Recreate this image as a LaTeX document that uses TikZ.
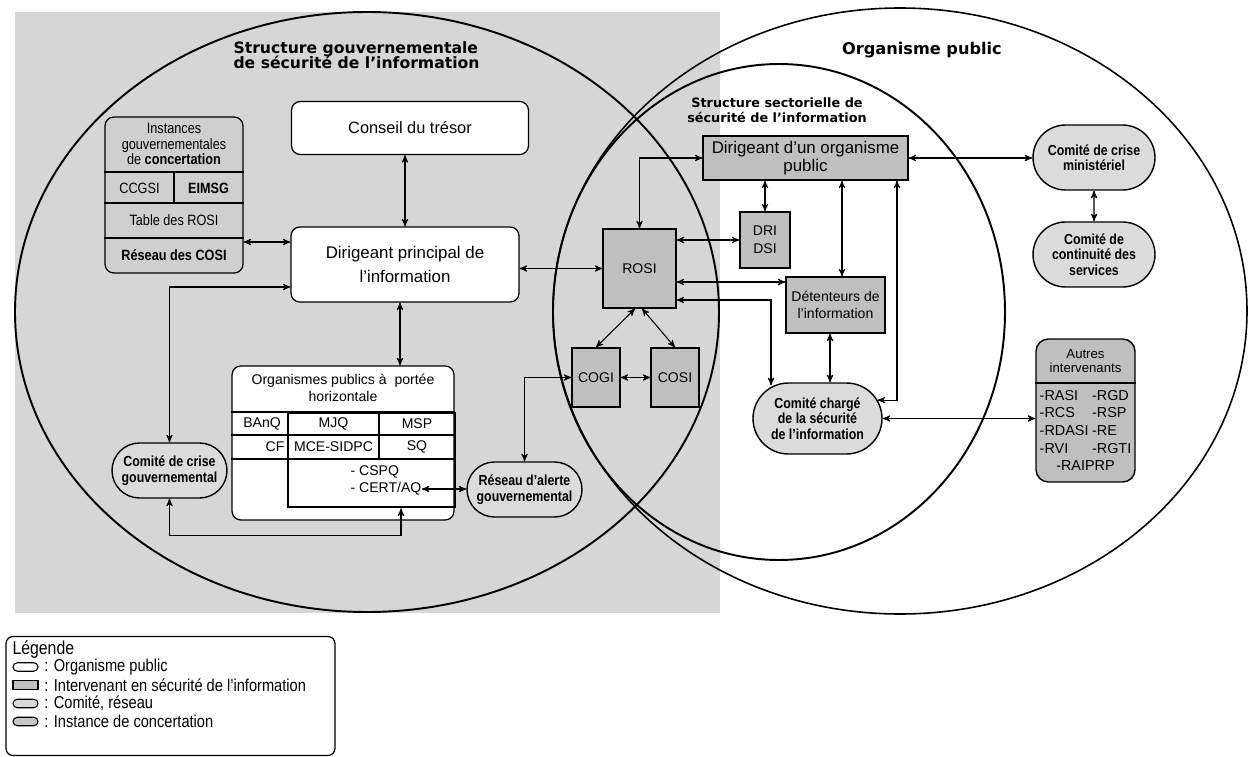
\documentclass[tikz,border=0pt]{standalone}
\usepackage{fontspec}
\setmainfont{Liberation Sans}
\newfontfamily\etroit[FakeStretch=0.85]{Liberation Sans}
\newfontfamily\titrefont{DejaVu Sans}
\usepackage{tikz}
\usetikzlibrary{arrows,shapes.misc,positioning}

\definecolor{fondgris}{gray}{0.84}
\definecolor{intergris}{gray}{0.75}
\definecolor{comitegris}{gray}{0.86}
\definecolor{instgris}{gray}{0.81}

\begin{document}
\begin{tikzpicture}[x=0.02cm,y=-0.02cm,>=stealth',line width=0.6pt]
  \tikzstyle{orgbox}=[draw,fill=white,rounded corners=5pt,line width=0.7pt,inner sep=0pt,align=center]
  \tikzstyle{interbox}=[draw,fill=intergris,line width=0.7pt,inner sep=0pt,align=center,
                        font=\fontsize{8}{10}\selectfont]
  \tikzstyle{comite}=[draw,fill=comitegris,rounded rectangle,line width=0.8pt,inner sep=0pt,align=center,
                      font={\etroit\bfseries\fontsize{8.3}{8.8}\selectfont\lineskiplimit=-20pt}]
  \tikzstyle{instbox}=[draw,fill=instgris,rounded corners=5pt,line width=0.7pt,inner sep=0pt]
  \tikzstyle{petit}=[font={\etroit\fontsize{8.5}{9}\selectfont\lineskiplimit=-20pt},align=center,inner sep=0pt]
  \tikzstyle{cellule}=[font=\fontsize{8}{10}\selectfont,inner sep=0pt]
  \tikzstyle{legtexte}=[font=\etroit\fontsize{9.8}{11}\selectfont,inner sep=0pt]
  \tikzstyle{lien}=[<->,line width=0.6pt]

  \useasboundingbox (0,0) rectangle (1248,757);
  \fill[fondgris] (15,12) rectangle (720,613);

  % les trois structures
  \draw[line width=1.1pt] (367,312) ellipse [x radius=352, y radius=300];
  \draw[line width=0.9pt] (900,311) ellipse [x radius=347, y radius=303];
  \draw[line width=1.1pt] (779,312) ellipse [x radius=226, y radius=248];

  \node[font={\titrefont\bfseries\fontsize{8.9}{8.5}\selectfont\lineskiplimit=-20pt},align=left,
        inner sep=0pt,anchor=west] (titreGouv) at (233,55) {Structure gouvernementale\\de sécurité de l’information};
  \node[font=\titrefont\bfseries\fontsize{9.2}{11}\selectfont,inner sep=0pt] (titreOrg) at (922,50) {Organisme public};
  \node[font={\titrefont\bfseries\fontsize{7.3}{8.5}\selectfont\lineskiplimit=-20pt},align=center,
        inner sep=0pt] (titreSect) at (777,110) {Structure sectorielle de\\sécurité de l’information};

  % structure gouvernementale
  \node[orgbox,minimum width=4.74cm,minimum height=1.06cm,font=\fontsize{9.3}{11}\selectfont] (tresor) at (410,128) {Conseil du trésor};
  \node[orgbox,minimum width=4.56cm,minimum height=1.5cm,font=\fontsize{9.6}{13.6}\selectfont] (dpi) at (405,264.5) {Dirigeant principal de\\l’information};

  \node[instbox,minimum width=2.76cm,minimum height=3.12cm] (instances) at (174,195) {};
  \foreach \y in {172,203,238}
    \draw[line width=0.7pt] (instances.west |- 0,\y) -- (instances.east |- 0,\y);
  \draw[line width=0.7pt] (174,172) -- (174,203);
  \node[petit] (instTitre) at (174,144) {Instances\\gouvernementales\\de \textbf{concertation}};
  \node[petit] (ccgsi) at (139.5,188) {CCGSI};
  \node[petit,font=\etroit\bfseries\fontsize{8.5}{9}\selectfont] (eimsg) at (208.5,188) {EIMSG};
  \node[petit] (tableRosi) at (174,220.5) {Table des ROSI};
  \node[petit,font=\etroit\bfseries\fontsize{8.5}{9}\selectfont] (reseauCosi) at (174,255.5) {Réseau des COSI};

  \node[comite,minimum width=2.3cm,minimum height=1.1cm] (crisegouv) at (169.5,470.5) {Comité de crise\\gouvernemental};

  \node[orgbox,minimum width=4.44cm,minimum height=3.08cm] (horizontale) at (343,443) {};
  \foreach \y in {412,435,459}
    \draw[line width=0.7pt] (horizontale.west |- 0,\y) -- (horizontale.east |- 0,\y);
  \draw[line width=0.7pt] (379,412) -- (379,459);
  \node[draw,line width=1.6pt,minimum width=3.34cm,minimum height=1.88cm] (noyau) at (371.5,460) {};
  \node[font=\fontsize{8}{10}\selectfont,align=center,inner sep=0pt] (horizTitre) at (343,388) {Organismes publics à\ \ portée\\horizontale};
  \node[cellule] (banq) at (262,424) {BAnQ};
  \node[cellule,anchor=east] (cf) at (285,447) {CF};
  \node[cellule] (mjq) at (333.5,424) {MJQ};
  \node[cellule] (msp) at (417,424) {MSP};
  \node[cellule] (mce) at (333.5,447) {MCE-SIDPC};
  \node[cellule] (sq) at (417,447) {SQ};
  \node[cellule,anchor=west] (cspq) at (350,472) {- CSPQ};
  \node[cellule,anchor=west] (certaq) at (350,489) {- CERT/AQ};

  \node[comite,minimum width=2.3cm,minimum height=1.1cm] (alerte) at (524.5,489.5) {Réseau d’alerte\\gouvernemental};

  % structure sectorielle
  \node[interbox,minimum width=1.46cm,minimum height=1.58cm] (rosi) at (639.5,268.5) {ROSI};
  \node[interbox,minimum width=0.96cm,minimum height=1.18cm] (cogi) at (596,377.5) {COGI};
  \node[interbox,minimum width=0.96cm,minimum height=1.18cm] (cosi) at (675,377.5) {COSI};
  \node[interbox,minimum width=4.1cm,minimum height=0.88cm,font=\fontsize{9.6}{10.5}\selectfont] (dop) at (805.5,158) {Dirigeant d’un organisme\\public};
  \node[interbox,minimum width=1cm,minimum height=1.12cm] (dri) at (765,240) {DRI\\DSI};
  \node[interbox,minimum width=1.98cm,minimum height=1.12cm] (det) at (835.5,305) {Détenteurs de\\l’information};
  \node[comite,minimum width=2.58cm,minimum height=1.42cm] (chargeSecu) at (817.5,418.5) {Comité chargé\\de la sécurité\\de l’information};

  % organisme public
  \node[comite,minimum width=2.44cm,minimum height=1.3cm] (crisemin) at (1094,157.5) {Comité de crise\\ministériel};
  \node[comite,minimum width=2.44cm,minimum height=1.3cm] (continuite) at (1094,254.5) {Comité de\\continuité des\\services};
  \node[draw,fill=intergris,rounded corners=7pt,line width=0.8pt,minimum width=1.98cm,minimum height=2.86cm,
        inner sep=0pt] (autres) at (1085.5,410.5) {};
  \draw[line width=0.8pt] (autres.west |- 0,383) -- (autres.east |- 0,383);
  \node[font={\fontsize{7.5}{7.8}\selectfont\lineskiplimit=-20pt},align=center,inner sep=0pt] (autresTitre) at (1085.5,361) {Autres\\intervenants};
  \node[font=\fontsize{8.2}{10}\selectfont,inner sep=0pt] (autresListe) at (1085.5,432)
    {\begin{tabular}{@{}l@{\hspace{2pt}}l@{}}-RASI&-RGD\\-RCS&-RSP\\-RDASI&-RE\\-RVI&-RGTI\\\multicolumn{2}{c}{-RAIPRP}\end{tabular}};

  % liens
  \draw[lien] (dpi.north) -- (dpi.north |- tresor.south);
  \draw[lien] ([yshift=0.45cm]dpi.west) -- ([yshift=0.45cm]dpi.west -| instances.east);
  \draw[lien] ([yshift=-0.45cm]dpi.west) -| (crisegouv.north);
  \draw[lien] ([xshift=1.14cm]horizontale.north) -- ([xshift=1.14cm]horizontale.north |- dpi.south);
  \draw[lien] ([xshift=0.59cm]noyau.south) -- ++(0,27) -| (crisegouv.south);
  \draw[lien] (certaq.east) -- (certaq.east -| alerte.west);
  \draw[lien] (alerte.north) |- (cogi.west);
  \path (cogi) edge[lien] (cosi);
  \draw[lien] ([xshift=-0.09cm]rosi.south) -- (cogi.north);
  \draw[lien] ([xshift=0.05cm]rosi.south) -- (cosi.north);
  \draw[lien] (rosi.west) -- (rosi.west -| dpi.east);
  \draw[lien] (rosi.north) |- (dop.west);
  \draw[lien] (dri.north) -- (dri.north |- dop.south);
  \draw[lien] (dri.west) -- (dri.west -| rosi.east);
  \draw[lien] ([xshift=0.13cm]det.north) -- ([xshift=0.13cm]det.north |- dop.south);
  \draw[lien] ([yshift=0.46cm]det.west) -- ([yshift=0.46cm]det.west -| rosi.east);
  \draw[lien] ([yshift=-0.63cm]rosi.east) -| ([xshift=-0.93cm,yshift=-0.06cm]chargeSecu.north);
  \draw[lien] ([xshift=-0.11cm]det.south) -- ([xshift=-0.11cm]det.south |- chargeSecu.north);
  \draw[lien] (chargeSecu.17) -| ([xshift=1.83cm]dop.south);
  \draw[lien] (dop.east) -- (dop.east -| crisemin.west);
  \path (crisemin) edge[lien] (continuite);
  \draw[lien] (chargeSecu.east) -- (chargeSecu.east -| autres.west);

  % legende
  \node[draw,fill=white,rounded corners=4pt,line width=0.7pt,minimum width=6.58cm,minimum height=2.38cm] (legende) at (170.5,696) {};
  \node[legtexte,anchor=west,font=\etroit\fontsize{10.6}{12}\selectfont] (legTitre) at (12,650) {Légende};
  \node[draw,rounded rectangle,fill=white,minimum width=0.5cm,minimum height=0.17cm,inner sep=0pt] (symOrg) at (25.5,667) {};
  \node[legtexte,right=3pt of symOrg] (txtOrg) {: Organisme public};
  \node[draw,fill=intergris,minimum width=0.5cm,minimum height=0.17cm,inner sep=0pt] (symInter) at (25.5,685) {};
  \node[legtexte,right=3pt of symInter] (txtInter) {: Intervenant en sécurité de l’information};
  \node[draw,rounded rectangle,fill=comitegris,minimum width=0.5cm,minimum height=0.17cm,inner sep=0pt] (symComite) at (25.5,703.5) {};
  \node[legtexte,right=3pt of symComite] (txtComite) {: Comité, réseau};
  \node[draw,rounded rectangle,fill=gray!45,minimum width=0.5cm,minimum height=0.17cm,inner sep=0pt] (symInst) at (25.5,721.5) {};
  \node[legtexte,right=3pt of symInst] (txtInst) {: Instance de concertation};
\end{tikzpicture}
\end{document}
